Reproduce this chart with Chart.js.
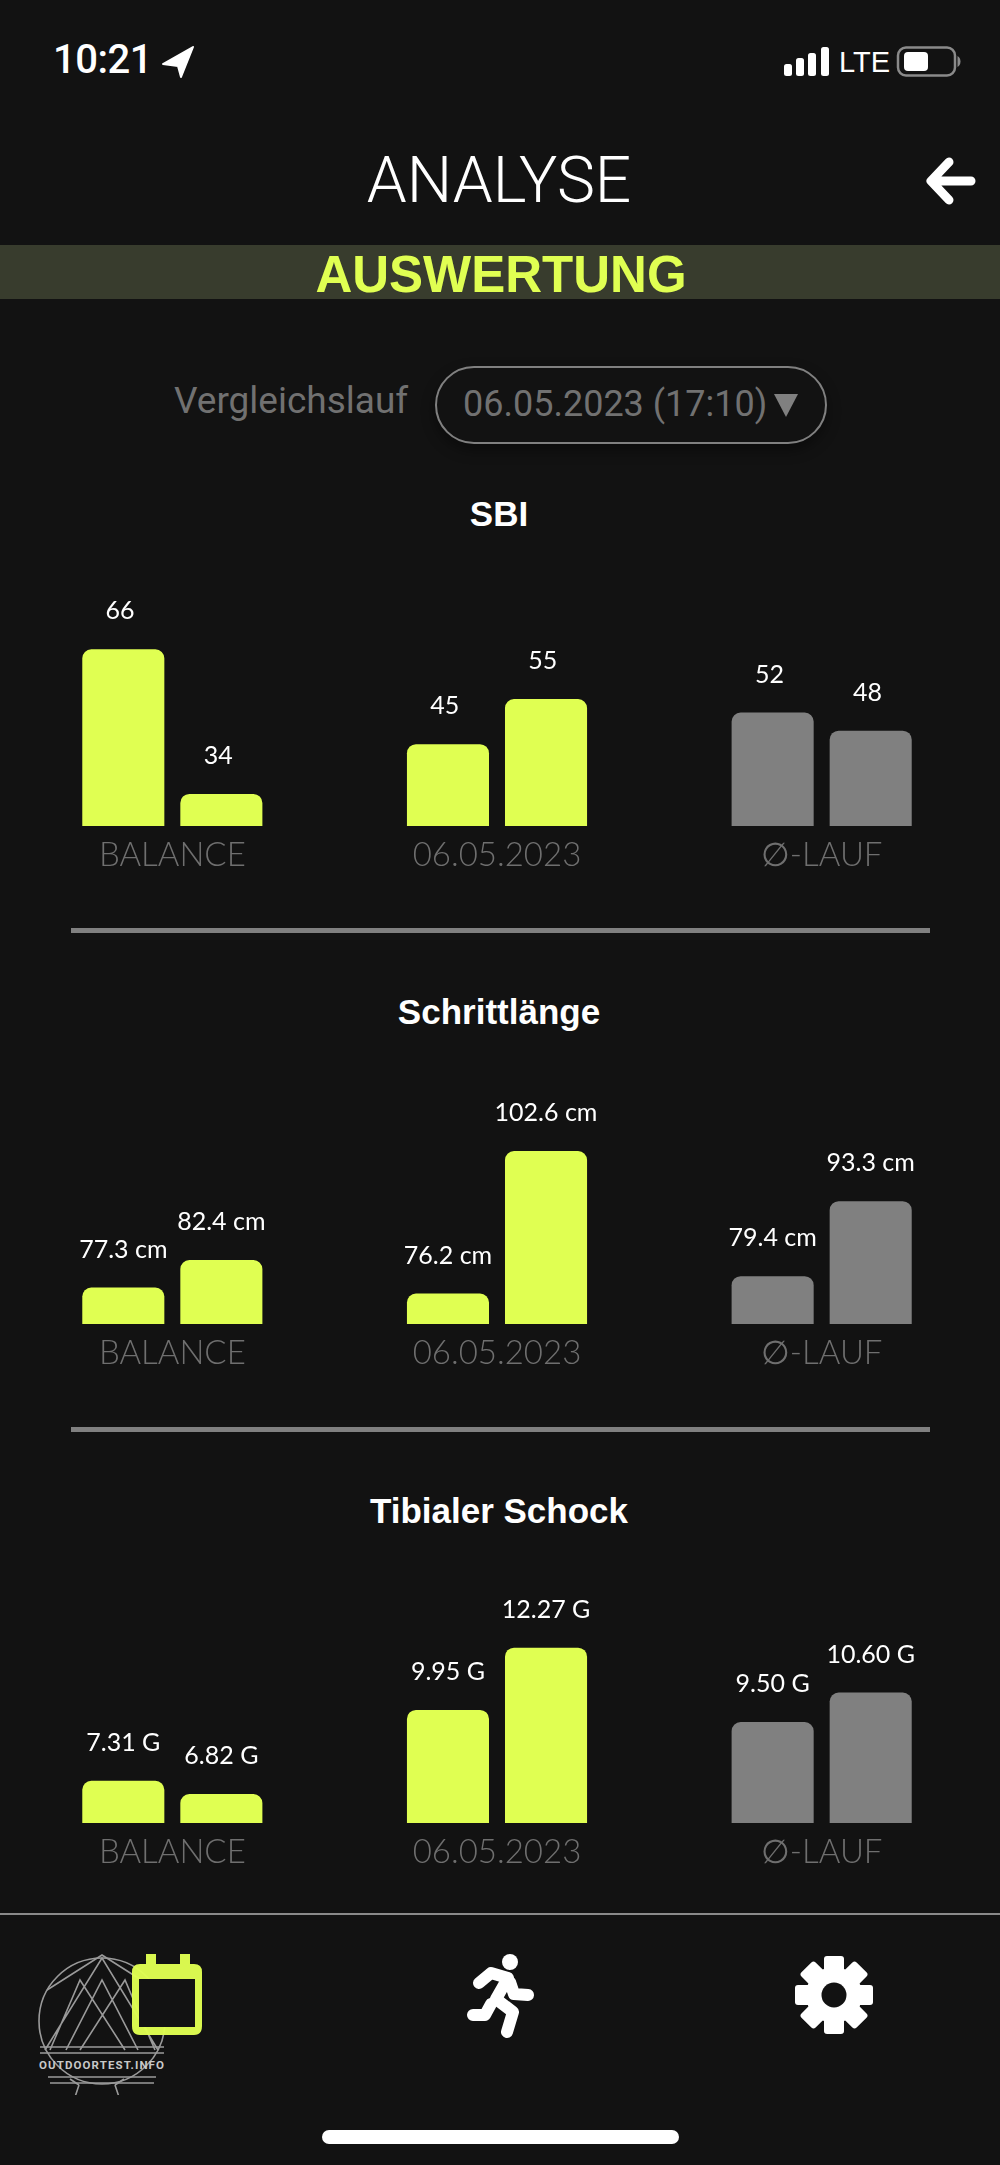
<!DOCTYPE html>
<html lang="de">
<head>
<meta charset="utf-8">
<title>Analyse</title>
<script src="https://cdn.jsdelivr.net/npm/chart.js@4"></script>
<style>
	html, body { margin: 0; padding: 0; background: #121212; }
	#page { position: relative; width: 1000px; height: 2165px; overflow: hidden; background: #121212; font-family: Roboto, sans-serif; }
	#page > * { position: absolute; }
	.center { left: 0; width: 998px; text-align: center; white-space: nowrap; }
	.sectionTitle { font: 700 35px "Liberation Sans", sans-serif; color: #fff; line-height: 40px; }
	.rule { left: 71px; width: 859px; height: 5px; background: #808080; }
	canvas { left: 0; }
</style>
</head>
<body>
<div id="page">
	<div style="left:53px;top:34px;font:500 40px/52px Roboto;color:#fff;letter-spacing:-0.5px">10:21</div>
	<svg style="left:0;top:0" width="1000" height="100">
		<path d="M193 47 L163 64 L178 66 L181 77 Z" fill="#fff" stroke="#fff" stroke-width="2" stroke-linejoin="round"/>
		<rect x="784" y="64" width="8" height="12" rx="2.5" fill="#fff"/>
		<rect x="796" y="58" width="8" height="18" rx="2.5" fill="#fff"/>
		<rect x="808" y="53" width="8" height="23" rx="2.5" fill="#fff"/>
		<rect x="821" y="47" width="8" height="29" rx="2.5" fill="#fff"/>
		<rect x="898" y="47.5" width="57" height="28" rx="8" fill="none" stroke="#8a8a8a" stroke-width="2.5"/>
		<rect x="904" y="52" width="24" height="19" rx="4" fill="#fff"/>
		<path d="M957.5 56 a5 6 0 0 1 0 11 Z" fill="#8a8a8a"/>
	</svg>
	<div style="left:839px;top:44px;font:400 29px/36px 'Liberation Sans Narrow','Liberation Sans';color:#fff">LTE</div>

	<div class="center" style="top:143px;font:300 64px/76px Roboto;color:#fff">ANALYSE</div>
	<svg style="left:925px;top:157px" width="52" height="48">
		<path d="M24 5 L6 24 L24 43 M8 24 H46" fill="none" stroke="#fff" stroke-width="9" stroke-linecap="round" stroke-linejoin="round"/>
	</svg>

	<div style="left:0;top:245px;width:1000px;height:54px;background:#383c2d;overflow:hidden">
		<div class="center" style="left:0;width:1002px;top:-19px;font:700 51px/60px 'Liberation Sans';color:#e0ff52">AUSWERTUNG</div>
	</div>

	<div style="left:174px;top:378px;font:400 37px/46px Roboto;color:#717171">Vergleichslauf</div>
	<div style="left:435px;top:366px;width:388px;height:74px;border:2.5px solid #808080;border-radius:40px;box-shadow:0 6px 14px rgba(0,0,0,.4)"></div>
	<div style="left:463px;top:381px;font:400 36px/46px Roboto;color:#717171;white-space:nowrap">06.05.2023 (17:10)</div>
	<svg style="left:772px;top:392px" width="28" height="26"><path d="M2 2 H26 L14 25 Z" fill="#808080"/></svg>

	<div class="center sectionTitle" style="top:494px">SBI</div>
	<canvas id="sbiChart" width="1000" height="300" style="top:586px"></canvas>
	<div class="rule" style="top:928px"></div>

	<div class="center sectionTitle" style="top:992px">Schrittlänge</div>
	<canvas id="stepChart" width="1000" height="300" style="top:1084px"></canvas>
	<div class="rule" style="top:1427px"></div>

	<div class="center sectionTitle" style="top:1491px">Tibialer Schock</div>
	<canvas id="shockChart" width="1000" height="300" style="top:1583px"></canvas>

	<div style="left:0;top:1913px;width:1000px;height:2px;background:#8a8a8a"></div>

	<!-- Logo -->
	<svg style="left:30px;top:1950px" width="150" height="145" fill="none" stroke="#9a9a9a" stroke-width="1.6">
		<circle cx="72" cy="71" r="63"/>
		<path d="M17 40 L72 5 L127 40"/>
		<path d="M15 100 L72 8 L128 100 M36 100 L72 30 L108 100 M50 100 L95 30 L125 100 M95 100 L50 30 L20 100"/>
		<path d="M10 97 H134 M10 103 H134 M18 127 H126 M20 133 H124 M49 135 L39 165 M85 135 L95 165" />
		<path d="M49 135 L40 129 M85 135 L94 129"/>
		<text x="72" y="119" text-anchor="middle" fill="#c8c8c8" stroke="none" font-family="Roboto" font-weight="700" font-size="11.5" letter-spacing="1.1">OUTDOORTEST.INFO</text>
	</svg>

	<!-- Kalender -->
	<svg style="left:130px;top:1952px" width="75" height="86">
		<path d="M16 2 H26 V12 H50 V2 H60 V12 H64 Q72 12 72 20 V74 Q72 83 64 83 H10 Q2 83 2 74 V20 Q2 12 10 12 H16 Z" fill="#e0ff52" fill-opacity="0.97"/>
		<rect x="9" y="27" width="56" height="48" fill="#121212"/>
	</svg>

	<!-- Laeufer -->
	<svg style="left:460px;top:1950px" width="80" height="90" viewBox="460 1950 80 90" fill="none" stroke="#fff" stroke-width="12" stroke-linecap="round" stroke-linejoin="round">
		<ellipse cx="510" cy="1962" rx="8" ry="8" fill="#fff" stroke="none"/>
		<path d="M479 1983 L491 1973 L508 1978 L496 1999 L513 2012 L507 2032"/>
		<path d="M510 1982 L514 1994 L528 1995"/>
		<path d="M491 2004 L485 2015 L473 2015"/>
	</svg>

	<!-- Zahnrad -->
	<svg style="left:794px;top:1954px" width="80" height="82" viewBox="-40 -41 80 82">
		<g id="gearTeeth" fill="#fff"></g>
		<circle r="28" fill="#fff"/>
		<circle r="12.5" fill="#121212"/>
	</svg>

	<div style="left:322px;top:2130px;width:357px;height:14px;border-radius:7px;background:#fff"></div>
</div>

<script>
// Kategorien
const categories = ['BALANCE', '06.05.2023', '∅-LAUF'];

// SBI
const sbiLeft = [66, 45, 52];
const sbiRight = [34, 55, 48];

// Schrittlänge (cm)
const stepLeft = [77.3, 76.2, 79.4];
const stepRight = [82.4, 102.6, 93.3];

// Tibialer Schock (G)
const shockLeft = [7.31, 9.95, 9.5];
const shockRight = [6.82, 12.27, 10.6];

const YELLOW = '#e0ff52';
const GREY = '#808080';
const barColors = [YELLOW, YELLOW, GREY];

const LABEL_FONT = '400 25px Lato';
const LETTER_FONT = '900 33px Lato';
const BOX_HEIGHT = 42; // quadratischer Sockel unter jedem Balken
const LABEL_GAP = 38;

// Sockel mit L / R und Wertebeschriftung
const barDecor = {
	id: 'barDecor',
	afterDatasetsDraw(chart, args, opts) {
		const ctx = chart.ctx;
		ctx.save();
		ctx.textAlign = 'center';
		ctx.textBaseline = 'middle';
		chart.data.datasets.forEach((ds, d) => {
			chart.getDatasetMeta(d).data.forEach((bar, i) => {
				const left = bar.x - bar.width / 2;
				ctx.fillStyle = barColors[i];
				ctx.fillRect(left, bar.base - BOX_HEIGHT, bar.width, BOX_HEIGHT);

				ctx.fillStyle = '#121212';
				ctx.font = LETTER_FONT;
				ctx.fillText(ds.label, bar.x, bar.base - 20);

				ctx.fillStyle = '#fff';
				ctx.font = LABEL_FONT;
				const value = ds.data[i].toFixed(opts.decimals);
				ctx.fillText(`${value} ${opts.unit}`, bar.x, bar.y - LABEL_GAP);
			});
		});
		ctx.restore();
	},
};

function drawChart(id, left, right, yMin, yMax, unit, decimals) {
	const ctx = document.getElementById(id).getContext('2d');
	return new Chart(ctx, {
		type: 'bar',
		data: {
			labels: categories,
			datasets: [
				{ label: 'L', data: left, backgroundColor: barColors },
				{ label: 'R', data: right, backgroundColor: barColors },
			],
		},
		plugins: [barDecor],
		options: {
			responsive: false,
			animation: false,
			devicePixelRatio: 1,
			layout: { padding: { top: 40, left: 10, right: 16, bottom: 0 } },
			datasets: {
				bar: {
					categoryPercentage: 0.604,
					barPercentage: 0.837,
					borderRadius: 9,
				},
			},
			plugins: {
				legend: { display: false },
				tooltip: { enabled: false },
				barDecor: { unit, decimals },
			},
			scales: {
				x: {
					grid: { display: false, drawTicks: false },
					border: { display: false },
					afterFit: (scale) => {
						scale.height = 60;
					},
					ticks: {
						color: '#6f6f6f',
						padding: 10,
						maxRotation: 0,
						autoSkip: false,
						font: { family: 'Lato', weight: '300', size: 33 },
					},
				},
				y: { display: false, min: yMin, max: yMax },
			},
		},
	});
}

drawChart('sbiChart', sbiLeft, sbiRight, 26.9, 71.15, '', 0);
drawChart('stepChart', stepLeft, stepRight, 70.55, 107.6, 'cm', 1);
drawChart('shockChart', shockLeft, shockRight, 5.74, 13.19, 'G', 2);

// Zahnrad
const teeth = document.getElementById('gearTeeth');
for (let a = 0; a < 360; a += 45) {
	const tooth = document.createElementNS('http://www.w3.org/2000/svg', 'rect');
	tooth.setAttribute('x', -10);
	tooth.setAttribute('y', -39);
	tooth.setAttribute('width', 20);
	tooth.setAttribute('height', 20);
	tooth.setAttribute('rx', 3);
	tooth.setAttribute('transform', `rotate(${a})`);
	teeth.appendChild(tooth);
}
</script>
</body>
</html>
